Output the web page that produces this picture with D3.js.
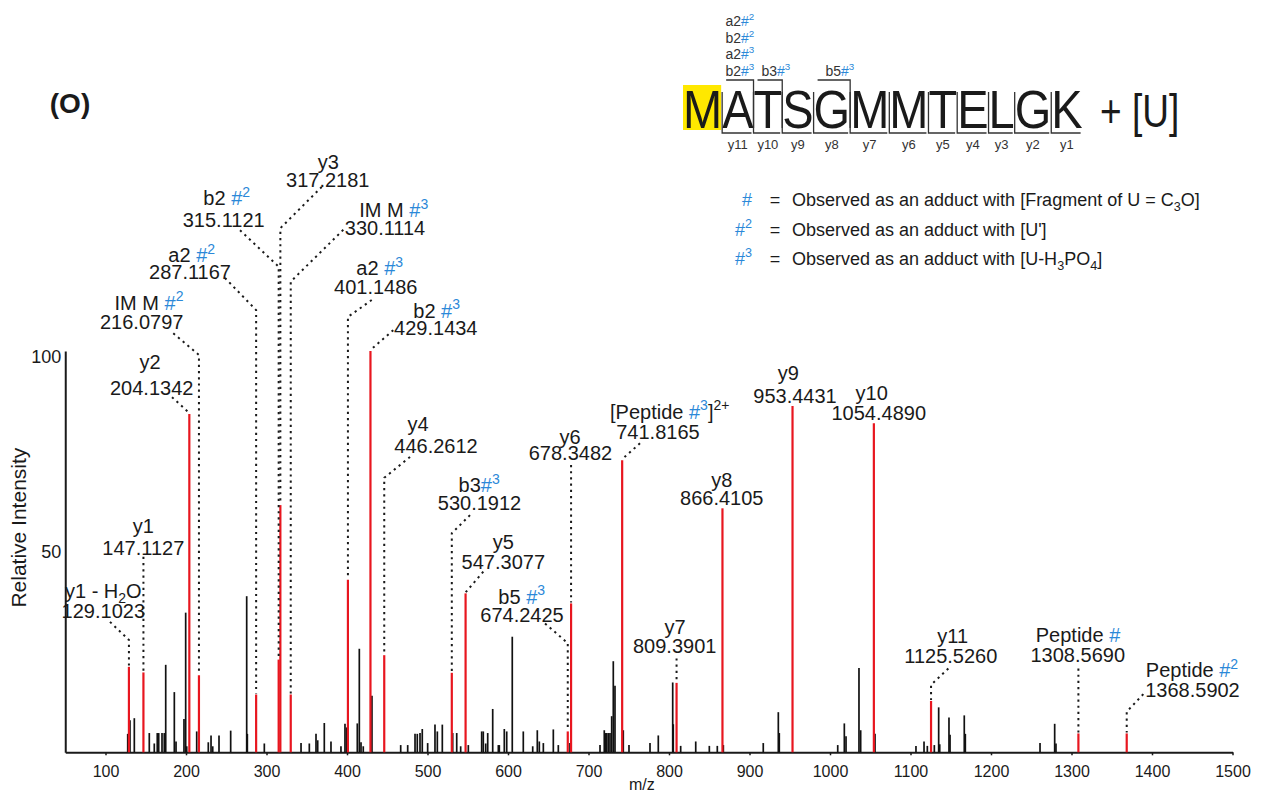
<!DOCTYPE html>
<html>
<head>
<meta charset="utf-8">
<script src="https://cdn.jsdelivr.net/npm/d3@7"></script>
<style>
  body { margin: 0; background: #fff; }
  svg { display: block; font-family: "Liberation Sans", Arial, sans-serif; }
</style>
</head>
<body>
<svg id="chart" width="1265" height="796"></svg>
<script>
// ---------------- data ----------------
const xTicks = [100, 200, 300, 400, 500, 600, 700, 800, 900, 1000, 1100, 1200, 1300, 1400, 1500];
const yTicks = [50, 100];

// assigned fragment ions (drawn in red)
const ionMz = [129.1023, 147.1127, 204.1342, 216.0797, 287.1167, 315.1121, 317.2181, 330.1114,
  401.1486, 429.1434, 446.2612, 530.1912, 547.3077, 674.2425, 678.3482, 741.8165, 809.3901,
  866.4105, 953.4431, 1054.4890, 1125.5260, 1308.5690, 1368.5902];
const ionIntensity = [21.3, 19.9, 84.3, 19.2, 14.4, 23.1, 61.6, 14.4,
  43.0, 100, 24.2, 19.8, 39.6, 5.2, 37.1, 72.8, 17.3,
  60.8, 86.3, 82.0, 12.8, 4.7, 4.7];
// "#" is the adduct mark, ^{..} superscript, _{..} subscript
const ionNames = ["y1 - H_{2}O", "y1", "y2", "IM M #^{2}", "a2 #^{2}", "b2 #^{2}", "y3", "IM M #^{3}",
  "a2 #^{3}", "b2 #^{3}", "y4", "b3#^{3}", "y5", "b5 #^{3}", "y6", "[Peptide #^{3}]^{2+}", "y7",
  "y8", "y9", "y10", "y11", "Peptide #", "Peptide #^{2}"];

// unassigned peaks (drawn in black)
const noiseMz = [127.6, 130.4, 135.8, 154.4, 160.6, 164.3, 166.1, 170.2, 173.0, 174.8, 185.5, 187.6,
  197.5, 199.6, 200.9, 213.3, 227.7, 231.1, 233.2, 241.0, 255.5, 275.4, 276.2, 297.3, 342.9, 353.2,
  361.5, 363.6, 371.8, 380.1, 392.5, 397.5, 399.6, 412.8, 415.3, 417.4, 420.2, 431.0, 466.7, 475.4,
  484.5, 487.3, 490.7, 493.5, 500.2, 509.3, 512.2, 518.4, 531.3, 536.3, 541.2, 550.7, 567.3, 569.3,
  572.3, 574.8, 581.0, 588.0, 589.2, 595.4, 598.4, 605.3, 619.0, 630.7, 636.4, 638.9, 643.9, 656.3,
  662.5, 677.0, 714.3, 719.6, 721.4, 722.6, 724.6, 726.7, 728.8, 730.8, 732.9, 743.2, 750.3, 776.4,
  786.7, 804.6, 805.3, 814.5, 833.2, 850.1, 860.0, 867.5, 917.1, 935.8, 937.0, 1009.6, 1017.8,
  1019.9, 1036.0, 1038.1, 1055.9, 1106.8, 1116.8, 1120.9, 1129.6, 1135.0, 1136.3, 1147.8, 1149.1,
  1166.8, 1168.1, 1260.9, 1279.1, 1280.7];
const noiseIntensity = [4.6, 8.0, 8.5, 4.8, 2.2, 4.8, 4.8, 4.8, 4.8, 21.8, 15.0, 2.7,
  8.3, 34.8, 1.5, 5.2, 2.5, 4.2, 1.5, 4.2, 5.4, 38.9, 4.6, 2.2, 2.3, 2.2,
  4.6, 3.0, 7.3, 2.7, 1.5, 7.1, 6.2, 7.2, 25.8, 2.5, 1.5, 14.1, 1.8, 1.8,
  4.6, 4.6, 4.8, 5.8, 2.3, 6.9, 5.2, 6.9, 4.8, 4.8, 1.5, 1.8, 5.2, 5.2,
  2.2, 4.8, 10.8, 1.8, 1.8, 5.8, 5.2, 28.8, 5.2, 1.5, 5.5, 2.7, 2.3, 5.7,
  1.8, 2.3, 1.8, 5.5, 4.8, 4.8, 4.8, 4.8, 9.0, 22.7, 16.6, 5.5, 1.8, 2.3,
  4.2, 17.4, 7.0, 1.6, 2.7, 1.6, 1.6, 1.8, 2.3, 10.0, 4.8, 1.8, 7.2,
  4.0, 21.0, 5.5, 4.6, 1.6, 2.7, 1.6, 1.8, 11.2, 2.0, 8.7, 4.4,
  9.2, 4.6, 2.3, 7.1, 2.2];

// peptide and observed fragments
const sequence = ["M", "A", "T", "S", "G", "M", "M", "T", "E", "L", "G", "K"];
const modifiedIndex = [0];
const modification = "+ [U]";
const yIonsSeen = [11, 10, 9, 8, 7, 6, 5, 4, 3, 2, 1];
const bIonsSeen = [2, 3, 5];
const bIonLabels = [["a2#^{2}", "b2#^{2}", "a2#^{3}", "b2#^{3}"], ["b3#^{3}"], ["b5#^{3}"]];

// key for the adduct marks
const legendMarks = ["#", "#^{2}", "#^{3}"];
const legendTexts = ["Observed as an adduct with [Fragment of U = C_{3}O]",
  "Observed as an adduct with [U']",
  "Observed as an adduct with [U-H_{3}PO_{4}]"];

const panelLabel = "(O)";

// ---------------- callout placement (label centres and leader points in m/z / intensity units) ----------------
// n: name line centre, m: mass line centre, s: leader start (x null = straight above the peak), k: kink level
const callouts = [
  { n: [97.3, 40.2], m: [97.3, 35.1], s: [105.6, 32.5], k: 28.0 },
  { n: [147, 56.3], m: [147, 51.0], s: [null, 48.7], k: null },
  { n: [155.3, 97.3], m: [157.4, 90.8], s: [182.6, 88.5], k: null },
  { n: [154, 112.0], m: [145, 107.3], s: [184.2, 104.4], k: 99.0 },
  { n: [207.1, 123.9], m: [205, 119.8], s: [248.4, 118.2], k: 110.2 },
  { n: [250.6, 138.1], m: [246.8, 132.6], s: [267.1, 130.1], k: 121.0 },
  { n: [376.8, 147.2], m: [376.1, 142.6], s: [368.6, 140.9], k: 130.6 },
  { n: [458.1, 135.1], m: [447.2, 130.6], s: [395.4, 130.2], k: 117.3 },
  { n: [440.6, 120.6], m: [435.7, 116.0], s: [430.7, 112.7], k: 108.5 },
  { n: [511.4, 110.0], m: [510.3, 105.7], s: [457.5, 105.2], k: null },
  { n: [488.2, 81.8], m: [510.6, 76.3], s: [478.3, 73.6], k: 68.4 },
  { n: [564.2, 66.6], m: [564.6, 62.0], s: [552.8, 59.1], k: 54.6 },
  { n: [594.2, 52.5], m: [594.2, 47.5], s: [569.3, 45.0], k: null },
  { n: [617.0, 38.8], m: [617.4, 34.2], s: [646.0, 32.1], k: 27.2 },
  { n: [677.0, 78.6], m: [677.6, 74.5], s: [null, 71.6], k: null },
  { n: [800.9, 84.9], m: [786.3, 79.9], s: [764.0, 77.0], k: null },
  { n: [807.5, 31.3], m: [807.1, 26.5], s: [null, 23.4], k: null },
  { n: [865.5, 67.9], m: [865.5, 63.3], s: null, k: null },
  { n: [948.2, 94.5], m: [956.5, 88.8], s: null, k: null },
  { n: [1051.8, 89.6], m: [1060.6, 84.5], s: null, k: null },
  { n: [1152.4, 29.0], m: [1150.1, 24.0], s: [1147.0, 20.9], k: 16.8 },
  { n: [1308.1, 29.2], m: [1307.8, 24.2], s: [null, 20.9], k: null },
  { n: [1449.7, 20.5], m: [1450.3, 15.5], s: [1389.2, 14.5], k: 10.1 }
];
// horizontal nudge (px) of each b-ion label stack from its residue centre
const bLabelNudge = [2, 8, 8];

// ---------------- drawing ----------------
const RED = "#e8161f", BLUE = "#2b88d8", INK = "#1a1a1a";
const svg = d3.select("#chart");

const x = d3.scaleLinear().domain([50, 1500]).range([65.25, 1232.5]);
const y = d3.scaleLinear().domain([0, 100]).range([752.3, 351]);

// rich text: '#' blue, ^{..} superscript, _{..} subscript
function parseRich(str) {
  const segs = [];
  let i = 0, lastBlue = false;
  while (i < str.length) {
    const c = str[i];
    if ((c === "^" || c === "_") && str[i + 1] === "{") {
      const end = str.indexOf("}", i);
      segs.push({ t: str.slice(i + 2, end), shift: c === "^" ? "sup" : "sub", blue: c === "^" && lastBlue });
      lastBlue = false;
      i = end + 1;
    } else if (c === "#") {
      segs.push({ t: "#", shift: null, blue: true });
      lastBlue = true; i++;
    } else {
      let j = i;
      while (j < str.length && str[j] !== "#" && !((str[j] === "^" || str[j] === "_") && str[j + 1] === "{")) j++;
      segs.push({ t: str.slice(i, j), shift: null, blue: false });
      lastBlue = false; i = j;
    }
  }
  return segs;
}
function richText(parent, str, px, py, fs, anchor, color) {
  const t = parent.append("text").attr("x", px).attr("y", py)
    .attr("font-size", fs).attr("text-anchor", anchor || "middle").attr("fill", color || INK);
  let cur = 0;
  parseRich(str).forEach(s => {
    const off = s.shift === "sup" ? -0.42 * fs : s.shift === "sub" ? 0.25 * fs : 0;
    const ts = t.append("tspan").text(s.t).attr("dy", off - cur);
    if (s.shift) ts.attr("font-size", fs * 0.7);
    if (s.blue) ts.attr("fill", BLUE);
    cur = off;
  });
  return t;
}

// axes
const gx = svg.append("g").attr("transform", `translate(0,${y(0)})`)
  .call(d3.axisBottom(x).tickValues(xTicks).tickFormat(d3.format("d"))
    .tickSize(3).tickSizeOuter(0).tickPadding(10));
gx.select(".domain").attr("stroke", INK).attr("stroke-width", 2);
gx.selectAll(".tick line").attr("stroke", INK).attr("stroke-width", 1.5);
gx.selectAll(".tick text").attr("font-size", 16).attr("fill", INK)
  .attr("font-family", "Liberation Sans, Arial, sans-serif");

const gy = svg.append("g").attr("transform", `translate(${x(50)},0)`)
  .call(d3.axisLeft(y).tickValues(yTicks).tickSize(0).tickSizeOuter(0).tickPadding(4));
gy.select(".domain").attr("stroke", INK).attr("stroke-width", 2);
// the top label sits just inside the end of the axis
gy.selectAll(".tick text").attr("font-size", 18).attr("fill", INK)
  .attr("dy", d => d === d3.max(yTicks) ? "0.62em" : "0.32em")
  .attr("font-family", "Liberation Sans, Arial, sans-serif");

svg.append("text").attr("transform", `translate(26,${(y(0) + y(100)) / 2 - 24}) rotate(-90)`)
  .attr("text-anchor", "middle").attr("font-size", 21).attr("fill", INK).text("Relative Intensity");
svg.append("text").attr("x", (x(50) + x(1500)) / 2 - 7).attr("y", 790)
  .attr("text-anchor", "middle").attr("font-size", 16).attr("fill", INK).text("m/z");

// peaks
const noise = noiseMz.map((m, i) => ({ mz: m, v: noiseIntensity[i] }));
svg.append("g").selectAll("line").data(noise).join("line")
  .attr("x1", d => x(d.mz)).attr("x2", d => x(d.mz))
  .attr("y1", y(0)).attr("y2", d => y(d.v))
  .attr("stroke", "#111").attr("stroke-width", 1.7);

const ions = ionMz.map((m, i) => ({ mz: m, v: ionIntensity[i], name: ionNames[i], c: callouts[i] }));
svg.append("g").selectAll("line").data(ions).join("line")
  .attr("x1", d => x(d.mz)).attr("x2", d => x(d.mz))
  .attr("y1", y(0)).attr("y2", d => y(d.v))
  .attr("stroke", RED).attr("stroke-width", 2.2);

// leaders
const fmt = d3.format(".4f");
const gLead = svg.append("g");
ions.forEach(d => {
  const c = d.c;
  if (!c.s) return;
  const px = x(d.mz);
  const pts = [[c.s[0] === null ? px : x(c.s[0]), y(c.s[1])]];
  if (c.k !== null) pts.push([px, y(c.k)]);
  pts.push([px, y(d.v) - 1]);
  gLead.append("path").attr("d", d3.line()(pts))
    .attr("fill", "none").attr("stroke", INK).attr("stroke-width", 2)
    .attr("stroke-dasharray", "2.2,4");
});

// callout labels
const gLab = svg.append("g");
ions.forEach(d => {
  const c = d.c;
  richText(gLab, d.name, x(c.n[0]), y(c.n[1]) + 7, 20);
  gLab.append("text").attr("x", x(c.m[0])).attr("y", y(c.m[1]) + 7)
    .attr("font-size", 20).attr("text-anchor", "middle").attr("fill", INK).text(fmt(d.mz));
});

// panel label
svg.append("text").attr("x", 70).attr("y", 113).attr("text-anchor", "middle")
  .attr("font-size", 28).attr("font-weight", "bold").attr("fill", INK).text(panelLabel);

// legend
const gLeg = svg.append("g");
legendMarks.forEach((mk, i) => {
  const ly = 206 + i * 29.5;
  richText(gLeg, mk, 752, ly, 18, "end");
  gLeg.append("text").attr("x", 775).attr("y", ly).attr("text-anchor", "middle")
    .attr("font-size", 18).attr("fill", INK).text("=");
  richText(gLeg, legendTexts[i], 792, ly, 18, "start");
});

// peptide sequence with fragment brackets
const gSeq = svg.append("g");
const seqFont = 47, seqX0 = 683, seqBase = 128, seqStretch = 1.13;
const probe = gSeq.append("text").attr("font-size", seqFont);
const widths = sequence.map(r => { probe.text(r); return probe.node().getComputedTextLength(); });
probe.remove();
const bounds = [seqX0];
widths.forEach(w => bounds.push(bounds[bounds.length - 1] + w));
const centres = widths.map((w, i) => bounds[i] + w / 2);

modifiedIndex.forEach(i => {
  gSeq.append("rect").attr("x", bounds[i]).attr("y", 85)
    .attr("width", widths[i] - 1).attr("height", 45).attr("fill", "#ffe800");
});
const gLetters = gSeq.append("g").attr("transform", `translate(0,${seqBase}) scale(1,${seqStretch})`);
gLetters.selectAll("text").data(sequence).join("text")
  .attr("x", (d, i) => bounds[i]).attr("y", 0)
  .attr("font-size", seqFont).attr("fill", INK).text(d => d);
svg.append("text").attr("transform", `translate(1100,${seqBase - 1}) scale(1,1.25)`)
  .attr("font-size", 37).attr("fill", INK).text(modification);

const bracket = { stroke: "#333", "stroke-width": 1.3, fill: "none" };
// y ions: drop from the gap, run right along the bottom
yIonsSeen.forEach(n => {
  const k = sequence.length - n;
  const bx = bounds[k], ex = bounds[k + 1] - 2;
  const p = gSeq.append("path").attr("d", `M${bx},92 V133 H${ex}`);
  Object.entries(bracket).forEach(([a, v]) => p.attr(a, v));
  gSeq.append("text").attr("x", centres[k]).attr("y", 149).attr("text-anchor", "middle")
    .attr("font-size", 13).attr("fill", "#333").text("y" + n);
});
// b ions: rise from the gap, run left along the top
bIonsSeen.forEach((n, j) => {
  const k = n - 1;
  const bx = bounds[n], sx = bounds[k] + 4;
  const p = gSeq.append("path").attr("d", `M${sx},80 H${bx} V128`);
  Object.entries(bracket).forEach(([a, v]) => p.attr(a, v));
  const labs = bIonLabels[j];
  labs.forEach((lab, m) => {
    const ly = 76 - (labs.length - 1 - m) * 16.7;
    richText(gSeq, lab, centres[k] + bLabelNudge[j], ly, 14, "middle", "#333");
  });
});
</script>
</body>
</html>
